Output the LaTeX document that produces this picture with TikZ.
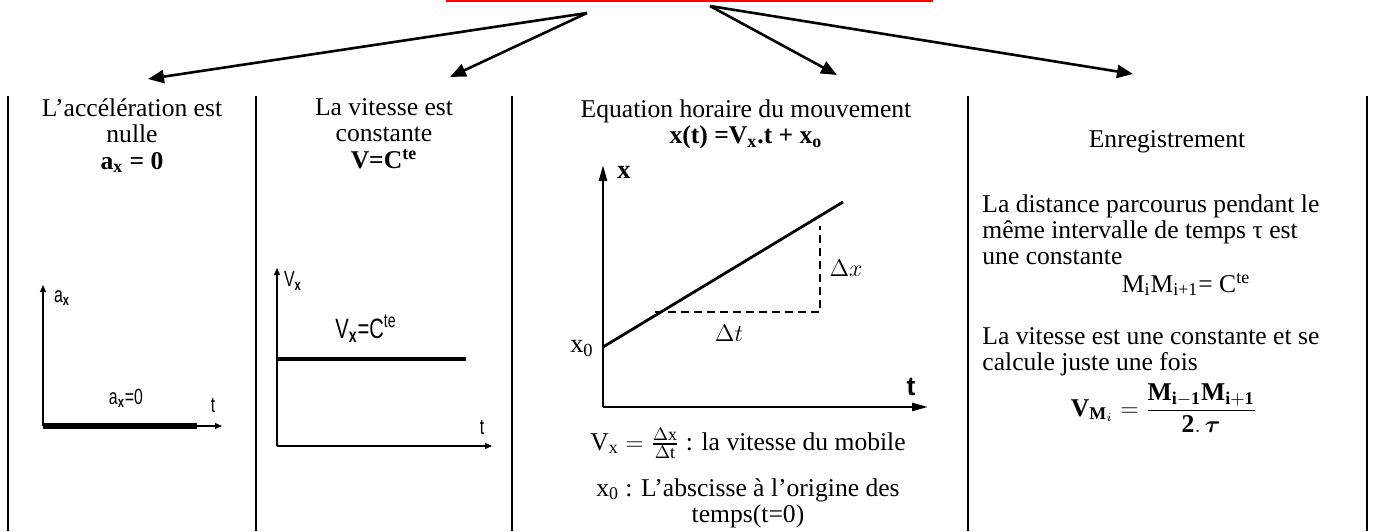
\documentclass[tikz,border=0pt]{standalone}
\usepackage{amsmath,amssymb}
\usepackage{fontspec}
\setmainfont{Liberation Serif}
\setsansfont{Liberation Sans}
\newfontfamily\lblfont[FakeStretch=0.72]{Liberation Sans}
\usepackage{tikz}
\usetikzlibrary{shapes,arrows,arrows.meta,positioning,fit,calc}
\definecolor{titlered}{RGB}{255,0,0}

\begin{document}
\begin{tikzpicture}[x=0.5pt,y=-0.5pt,
    fleche/.style={line width=1.3pt, -{Triangle[length=8pt,width=6.5pt]}},
    colsep/.style={line width=1pt},
    axe/.style={line width=0.6pt, -{Triangle[length=3.5pt,width=3pt]}},
    axebis/.style={line width=1.2pt, -{Triangle[length=8pt,width=4pt]}},
    txt/.style={inner sep=0pt, align=center, font=\fontsize{12.8}{13.2}\selectfont},
    lbl/.style={inner sep=0pt, font=\lblfont\fontsize{11}{12}\selectfont},
    lblserif/.style={inner sep=0pt, font=\fontsize{13.2}{14.5}\selectfont}]

\useasboundingbox (0,0) rectangle (1375,531);

% bas du cadre rouge du titre
\draw[titlered, line width=1.3pt] (446,1) -- (933,1);

% fleches
\coordinate (depG) at (587,13);
\coordinate (depD) at (710,6);
\coordinate (finA) at (148,79);
\coordinate (finB) at (450,77);
\coordinate (finC) at (837,75);
\coordinate (finD) at (1133,74);
\draw[fleche] (depG) -- (finA);
\draw[fleche] (depG) -- (finB);
\draw[fleche] (depD) -- (finC);
\draw[fleche] (depD) -- (finD);

% colonnes
\foreach \x in {8,256,512,968,1367}
    \draw[colsep] (\x,96) -- (\x,531);

% titres des colonnes
\node[txt, anchor=north] (acc) at (132,98) {L’accélération est\\nulle\\\textbf{a\textsubscript{x} = 0}};
\node[txt, anchor=north] (vit) at (384,98) {La vitesse est\\constante\\\textbf{V=C\textsuperscript{te}}};
\node[txt, anchor=north] (equ) at (746,99) {Equation horaire du mouvement\\\textbf{x(t) =V\textsubscript{x}.t + x\textsubscript{o}}};
\node[txt, anchor=north] (enr) at (1167,130) {Enregistrement};

% enregistrement
\node[txt, anchor=north west, align=left] (dist) at (982,194) {La distance parcourus pendant le\\même intervalle de temps τ est\\une constante};
\node[txt, anchor=base] (mm) at (1186,292) {M\textsubscript{i}M\textsubscript{i+1}= C\textsuperscript{te}};
\node[txt, anchor=north west, align=left] (vcst) at (982,327) {La vitesse est une constante et se\\calcule juste une fois};
\node[txt] (vmi) at (1164,408) {$\mathbf{V}_{\mathbf{M}_{i}} = \dfrac{\mathbf{M_{i-1}M_{i+1}}}{\mathbf{2.}\,\boldsymbol{\tau}}$};

% graphe a(t)
\coordinate (o1) at (43,426);
\draw[axe] (o1) -- ++(0,-141);
\draw[axe] (o1) -- ++(179,0);
\draw[line width=2.7pt] (o1) -- ++(154,0);
\node[lbl] (ax) at (62,298) {a\textsubscript{\textbf{x}}};
\node[lbl] (axnul) at (126,398) {a\textsubscript{\textbf{x}}=0};
\node[lbl] (t1) at (213,405) {t};

% graphe v(t)
\coordinate (o2) at (277,446);
\draw[axe] (o2) -- ++(0,-178);
\draw[axe] (o2) -- ++(215,0);
\draw[line width=2pt] (277,359) -- (466,359);
\node[lbl] (vx) at (293,281) {V\textsubscript{\textbf{x}}};
\node[lbl, font=\lblfont\fontsize{14}{15}\selectfont] (vcte) at (366,329) {V\textsubscript{\textbf{x}}=C\textsuperscript{te}};
\node[lbl] (t2) at (482,427) {t};

% graphe x(t)
\coordinate (o3) at (603,407);
\draw[axebis] (o3) -- (603,165);
\draw[axebis] (o3) -- (928,407);
\draw[line width=1.4pt] (603,347) -- (843,202);
\draw[line width=0.6pt, dash pattern=on 4pt off 2.5pt] (655,312) -- (820,312) -- (820,226);
\node[lblserif, font=\fontsize{13.2}{14.5}\selectfont\bfseries] (xl) at (624,172) {x};
\node[lblserif] (dx) at (846,268) {$\Delta x$};
\node[lblserif] (dt) at (729,333) {$\Delta t$};
\node[lblserif] (xzero) at (582,349) {x\textsubscript{0}};
\node[lblserif, font=\fontsize{13.2}{14.5}\selectfont\sffamily\bfseries] (t3) at (911,387) {t};

% sous le graphe
\node[txt, anchor=base] (vxdef) at (748,450) {$\mathrm{V_x} = \frac{\Delta \mathrm{x}}{\Delta \mathrm{t}}$ : la vitesse du mobile};
\node[txt, anchor=north] (xzdef) at (748,478) {x\textsubscript{0} : L’abscisse à l’origine des\\temps(t=0)};
\end{tikzpicture}
\end{document}
